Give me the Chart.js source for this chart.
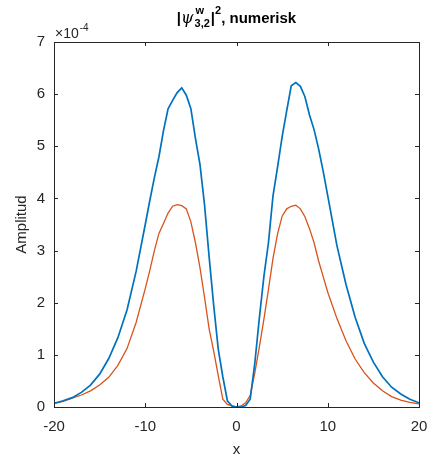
<!DOCTYPE html>
<html>
<head>
<meta charset="utf-8">
<script src="https://cdn.jsdelivr.net/npm/chart.js@4.4.1/dist/chart.umd.min.js"></script>
<style>
  html, body { margin: 0; padding: 0; background: #fff; }
  #c { display: block; }
</style>
</head>
<body>
<canvas id="c" width="433" height="461"></canvas>
<script>
// x positions
const xValues = [-20,-19,-18,-17,-16,-15,-14,-13,-12,-11,-10,
  -9.5,-9,-8.5,-8,-7.5,-7,-6.5,-6,-5.5,-5,-4.5,-4,-3.5,-3,-2.5,-2,-1.5,-1,-0.5,
  0,
  0.5,1,1.5,2,2.5,3,3.5,4,4.5,5,5.5,6,6.5,7,7.5,8,8.5,9,9.5,
  10,11,12,13,14,15,16,17,18,19,20];
// amplitudes in units of 1e-4
const blueValues = [0.07,0.12,0.18,0.28,0.42,0.63,0.93,1.33,1.86,2.6,3.5,
  3.96,4.4,4.8,5.3,5.72,5.88,6.03,6.12,5.98,5.72,5.15,4.65,3.87,2.88,1.95,1.11,0.58,0.12,0.02,
  0.0,
  0.0,0.03,0.15,0.83,1.7,2.5,3.15,4.05,4.6,5.18,5.68,6.16,6.22,6.15,5.95,5.6,5.32,4.95,4.52,
  4.05,3.1,2.35,1.72,1.22,0.86,0.58,0.38,0.25,0.15,0.08];
const orangeValues = [0.07,0.11,0.17,0.23,0.31,0.42,0.57,0.8,1.12,1.62,2.27,
  2.62,3.0,3.33,3.52,3.72,3.85,3.88,3.86,3.8,3.55,3.15,2.67,2.1,1.5,1.07,0.6,0.15,0.05,0.02,
  0.0,
  0.02,0.08,0.22,0.65,1.15,1.68,2.25,2.85,3.32,3.66,3.8,3.85,3.87,3.8,3.65,3.42,3.15,2.8,2.5,
  2.2,1.7,1.27,0.92,0.66,0.46,0.31,0.2,0.13,0.09,0.06];
const xTicks = [-20,-10,0,10,20];
const yTicks = [0,1,2,3,4,5,6,7];

const toPts = (ys) => xValues.map((x, i) => ({x: x, y: ys[i]}));
const FONT = '"Liberation Sans", Arial, Helvetica, sans-serif';
const AX = '#262626';

const decor = {
  id: 'decor',
  afterDraw(chart) {
    const ctx = chart.ctx;
    const a = chart.chartArea;
    const xs = chart.scales.x, ys = chart.scales.y;
    ctx.save();
    // box
    ctx.strokeStyle = AX;
    ctx.lineWidth = 1;
    ctx.strokeRect(Math.round(a.left) + 0.5, Math.round(a.top) + 0.5,
      Math.round(a.right - a.left), Math.round(a.bottom - a.top));
    // inward ticks
    ctx.beginPath();
    xTicks.forEach(t => {
      const px = Math.round(xs.getPixelForValue(t)) + 0.5;
      ctx.moveTo(px, a.bottom); ctx.lineTo(px, a.bottom - 4);
      ctx.moveTo(px, a.top); ctx.lineTo(px, a.top + 4);
    });
    yTicks.forEach(t => {
      const py = Math.round(ys.getPixelForValue(t)) + 0.5;
      ctx.moveTo(a.left, py); ctx.lineTo(a.left + 4, py);
      ctx.moveTo(a.right, py); ctx.lineTo(a.right - 4, py);
    });
    ctx.stroke();

    // exponent label
    ctx.fillStyle = AX;
    ctx.textBaseline = 'alphabetic';
    ctx.textAlign = 'left';
    ctx.font = '14px ' + FONT;
    ctx.fillText('\u00d710', a.left + 1, a.top - 4);
    const w10 = ctx.measureText('\u00d710').width;
    ctx.font = '10px ' + FONT;
    ctx.fillText('-4', a.left + 1 + w10 + 1, a.top - 11);

    // title: |ψ^w_{3,2}|^2, numerisk
    const cx = (a.left + a.right) / 2;
    const base = 23;
    const big = 'bold 15px ' + FONT;
    const psiFont = 'italic 16px "DejaVu Serif", serif';
    const small = 'bold 11px ' + FONT;
    ctx.font = big; const wBar0 = ctx.measureText('|').width;
    ctx.font = psiFont; const wPsi = ctx.measureText('\u03c8').width;
    ctx.font = small; const wSub = ctx.measureText('3,2').width;
    ctx.font = big; const wBar = ctx.measureText('|').width;
    ctx.font = small; const wSup2 = ctx.measureText('2').width;
    ctx.font = big; const wRest = ctx.measureText(', numerisk').width;
    const total = wBar0 + wPsi + wSub + 2 + wBar + wSup2 + wRest;
    let x0 = cx - total / 2;
    ctx.fillStyle = '#000';
    ctx.font = big; ctx.fillText('|', x0, base); x0 += wBar0;
    ctx.font = psiFont; ctx.fillText('\u03c8', x0, base); x0 += wPsi + 1;
    ctx.font = small; ctx.fillText('w', x0 + 1, base - 9); ctx.fillText('3,2', x0, base + 4); x0 += wSub + 1;
    ctx.font = big; ctx.fillText('|', x0, base); x0 += wBar;
    ctx.font = small; ctx.fillText('2', x0, base - 9); x0 += wSup2;
    ctx.font = big; ctx.fillText(', numerisk', x0, base);

    // axis labels
    ctx.fillStyle = AX;
    ctx.font = '15px ' + FONT;
    ctx.textAlign = 'center';
    ctx.textBaseline = 'middle';
    ctx.fillText('x', cx, 450);
    ctx.save();
    ctx.translate(22, (a.top + a.bottom) / 2);
    ctx.rotate(-Math.PI / 2);
    ctx.fillText('Amplitud', 0, 0);
    ctx.restore();
    ctx.restore();
  }
};

new Chart(document.getElementById('c'), {
  type: 'line',
  data: {
    datasets: [
      { data: toPts(blueValues), borderColor: '#0072BD', borderWidth: 1.7, pointRadius: 0, tension: 0, fill: false },
      { data: toPts(orangeValues), borderColor: '#D95319', borderWidth: 1.3, pointRadius: 0, tension: 0, fill: false }
    ]
  },
  options: {
    responsive: false,
    animation: false,
    devicePixelRatio: 1,
    layout: { padding: { left: 0, top: 42, right: 14, bottom: 0 } },
    plugins: { legend: { display: false }, tooltip: { enabled: false }, title: { display: false } },
    scales: {
      x: {
        type: 'linear', min: -20, max: 20,
        afterBuildTicks: (s) => { s.ticks = xTicks.map(v => ({value: v})); },
        ticks: { color: AX, font: { family: FONT, size: 15 }, padding: 11, maxRotation: 0, autoSkip: false },
        grid: { display: false, drawTicks: false },
        border: { display: false },
        afterFit: (s) => { s.height = 54; s.paddingLeft = 0; s.paddingRight = 0; }
      },
      y: {
        type: 'linear', min: 0, max: 7,
        afterBuildTicks: (s) => { s.ticks = yTicks.map(v => ({value: v})); },
        ticks: { color: AX, font: { family: FONT, size: 15 }, padding: 9, autoSkip: false },
        grid: { display: false, drawTicks: false },
        border: { display: false },
        afterFit: (s) => { s.width = 54; s.paddingTop = 0; s.paddingBottom = 0; }
      }
    }
  },
  plugins: [decor]
});
</script>
</body>
</html>
